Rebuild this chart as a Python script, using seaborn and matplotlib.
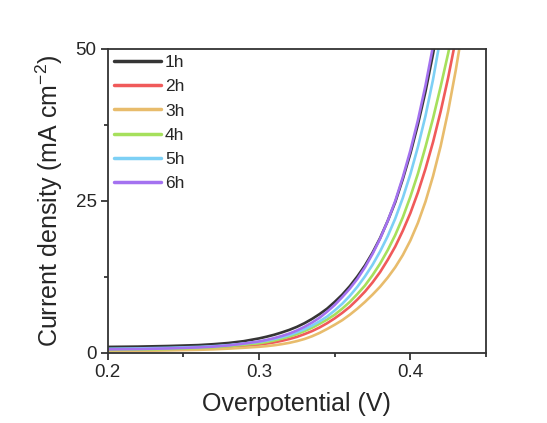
import numpy as np
import pandas as pd
import matplotlib
matplotlib.use("Agg")
import matplotlib.pyplot as plt
from matplotlib.ticker import MultipleLocator
import seaborn as sns

# potential readings (V); each series uses the first len(j) points
v_grid = [0.20, 0.22, 0.24, 0.26, 0.27, 0.28, 0.29,
          0.300, 0.305, 0.310, 0.315, 0.320, 0.325, 0.330, 0.335, 0.340,
          0.345, 0.350, 0.355, 0.360, 0.365, 0.370, 0.375, 0.380, 0.385,
          0.390, 0.395, 0.400, 0.405, 0.410, 0.415, 0.420, 0.425, 0.430,
          0.435]

# current density (mA cm-2)
j_1h = [1.0, 1.05, 1.15, 1.3, 1.45, 1.65, 1.95,
        2.4, 2.68, 3.0, 3.38, 3.8, 4.3, 4.9, 5.6, 6.4, 7.3, 8.4, 9.6, 11.0,
        12.6, 14.4, 16.5, 18.9, 21.7, 24.8, 28.6, 32.8, 37.6, 43.0, 49.2, 56.0]
j_2h = [0.4, 0.45, 0.55, 0.7, 0.82, 0.97, 1.15,
        1.38, 1.55, 1.75, 2.0, 2.3, 2.65, 3.1, 3.6, 4.2, 4.9, 5.7, 6.6, 7.6,
        8.8, 10.1, 11.6, 13.3, 15.3, 17.5, 20.1, 23.0, 26.4, 30.3, 34.7, 39.7,
        45.3, 51.6]
j_3h = [0.3, 0.35, 0.42, 0.52, 0.6, 0.72, 0.86,
        1.02, 1.13, 1.27, 1.45, 1.67, 1.95, 2.3, 2.75, 3.3, 3.95, 4.65, 5.4,
        6.3, 7.3, 8.4, 9.6, 10.9, 12.4, 14.1, 16.1, 18.5, 21.4, 24.9, 29.1,
        34.0, 39.8, 46.5, 54.0]
j_4h = [0.5, 0.55, 0.65, 0.82, 0.95, 1.12, 1.35,
        1.6, 1.8, 2.05, 2.35, 2.7, 3.1, 3.6, 4.15, 4.8, 5.5, 6.3, 7.3, 8.4,
        9.7, 11.1, 12.8, 14.7, 16.9, 19.4, 22.3, 25.7, 29.5, 33.9, 38.6, 43.8,
        49.3, 55.5]
j_5h = [0.7, 0.75, 0.85, 1.0, 1.12, 1.3, 1.55,
        1.85, 2.05, 2.3, 2.6, 2.95, 3.4, 3.9, 4.5, 5.2, 6.0, 7.0, 8.1, 9.4,
        10.9, 12.6, 14.5, 16.7, 19.2, 22.1, 25.5, 29.4, 33.9, 39.0, 45.0, 52.0]
j_6h = [0.6, 0.65, 0.75, 0.92, 1.05, 1.25, 1.55,
        1.9, 2.15, 2.45, 2.8, 3.2, 3.7, 4.3, 5.0, 5.8, 6.8, 7.9, 9.2, 10.6,
        12.2, 14.1, 16.3, 18.8, 21.7, 25.0, 28.9, 33.3, 38.3, 44.0, 50.5, 58.0]

labels = ["1h", "2h", "3h", "4h", "5h", "6h"]
colors = ["#353535", "#f05a5a", "#e8bc6c", "#a6e05c", "#7dd0f5", "#a472f0"]

frames = []
for lab, j in zip(labels, [j_1h, j_2h, j_3h, j_4h, j_5h, j_6h]):
    frames.append(pd.DataFrame({"V": v_grid[:len(j)], "J": j, "sample": lab}))
df = pd.concat(frames, ignore_index=True)

sns.set_style("ticks")
plt.rcParams["font.family"] = ["Liberation Sans", "DejaVu Sans"]

fig = plt.figure(figsize=(5.47, 4.23), dpi=100)
ax = fig.add_axes([0.197, 0.1655, 0.6915, 0.7187])

sns.lineplot(data=df, x="V", y="J", hue="sample", palette=colors,
             linewidth=1.9, ax=ax, sort=False)

ax.set_xlim(0.2, 0.45)
ax.set_ylim(0, 50)
ax.xaxis.set_major_locator(MultipleLocator(0.1))
ax.xaxis.set_minor_locator(MultipleLocator(0.05))
ax.yaxis.set_major_locator(MultipleLocator(25))
ax.yaxis.set_minor_locator(MultipleLocator(12.5))
ax.set_xticks([0.2, 0.3, 0.4])
ax.set_xticklabels(["0.2", "0.3", "0.4"])

ax.tick_params(axis="both", which="major", direction="out", length=5,
               width=1.2, labelsize=13.5, color="#222222", pad=3)
ax.tick_params(axis="both", which="minor", direction="out", length=3,
               width=1.2, color="#222222")
for sp in ax.spines.values():
    sp.set_color("#333333")
    sp.set_linewidth(1.3)

ax.set_xlabel("Overpotential (V)", fontsize=18, labelpad=8)
ax.set_ylabel("Current density (mA cm$^{\\mathregular{-2}}$)", fontsize=18,
              labelpad=8)

leg = ax.legend(loc="upper left", frameon=False, fontsize=12.5,
                handlelength=2.7, labelspacing=0.52, borderaxespad=0.1,
                handletextpad=0.25, borderpad=0.25)
for line in leg.get_lines():
    line.set_linewidth(2.5)

fig.savefig("out.png", dpi=100)
